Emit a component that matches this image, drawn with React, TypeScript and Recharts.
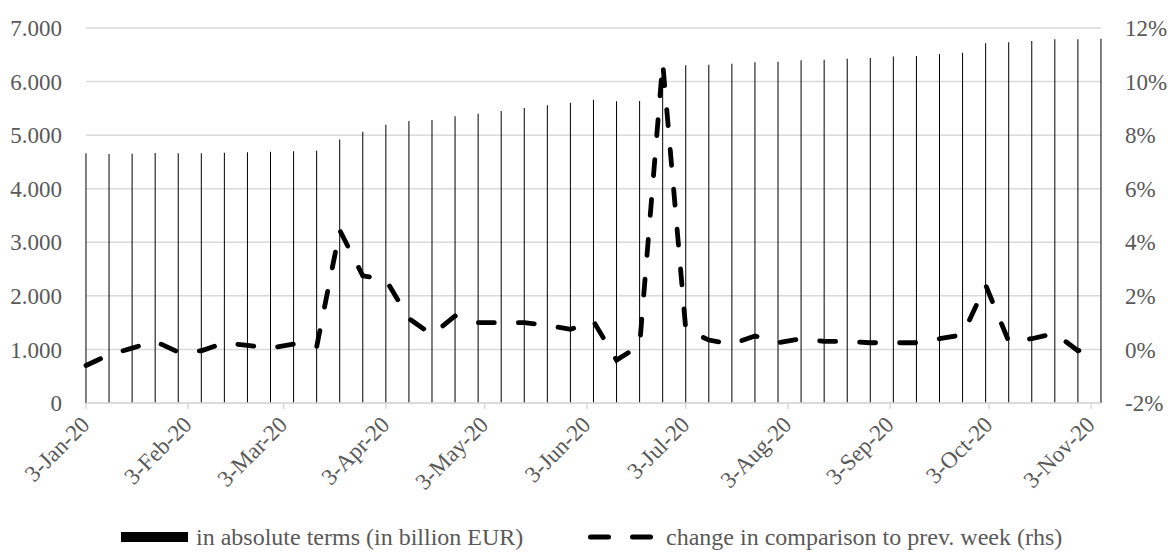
import React from 'react';
import { ComposedChart, Bar, Line, XAxis, YAxis, CartesianGrid } from 'recharts';

// weekly observations (Fridays)
const weekDates = [
  '2020-01-03', '2020-01-10', '2020-01-17', '2020-01-24', '2020-01-31',
  '2020-02-07', '2020-02-14', '2020-02-21', '2020-02-28', '2020-03-06',
  '2020-03-13', '2020-03-20', '2020-03-27', '2020-04-03', '2020-04-10',
  '2020-04-17', '2020-04-24', '2020-05-01', '2020-05-08', '2020-05-15',
  '2020-05-22', '2020-05-29', '2020-06-05', '2020-06-12', '2020-06-19',
  '2020-06-26', '2020-07-03', '2020-07-10', '2020-07-17', '2020-07-24',
  '2020-07-31', '2020-08-07', '2020-08-14', '2020-08-21', '2020-08-28',
  '2020-09-04', '2020-09-11', '2020-09-18', '2020-09-25', '2020-10-02',
  '2020-10-09', '2020-10-16', '2020-10-23', '2020-10-30', '2020-11-06',
];

// in billion EUR
const absoluteValues = [
  4660, 4650, 4655, 4665, 4660, 4660, 4670, 4680, 4690, 4700,
  4710, 4920, 5065, 5195, 5264, 5283, 5352, 5400, 5451, 5507,
  5557, 5606, 5662, 5631, 5637, 6240, 6304, 6316, 6334, 6360,
  6372, 6397, 6409, 6428, 6440, 6468, 6477, 6515, 6540, 6714,
  6732, 6757, 6788, 6788, 6800,
];

// % change vs previous week
const weeklyChange = [
  -0.6, -0.2, 0.05, 0.3, -0.1, -0.05, 0.25, 0.15, 0.05, 0.2,
  0.1, 4.45, 2.75, 2.6, 1.15, 0.55, 1.25, 1.0, 1.0, 1.0,
  0.9, 0.75, 1.05, -0.4, 0.15, 10.7, 0.75, 0.35, 0.2, 0.5,
  0.25, 0.4, 0.3, 0.3, 0.25, 0.25, 0.25, 0.4, 0.55, 2.4,
  0.3, 0.4, 0.6, -0.05, 0.25,
];

const tickDates = [
  '2020-01-03', '2020-02-03', '2020-03-03', '2020-04-03', '2020-05-03', '2020-06-03',
  '2020-07-03', '2020-08-03', '2020-09-03', '2020-10-03', '2020-11-03',
];
const tickLabels = [
  '3-Jan-20', '3-Feb-20', '3-Mar-20', '3-Apr-20', '3-May-20', '3-Jun-20',
  '3-Jul-20', '3-Aug-20', '3-Sep-20', '3-Oct-20', '3-Nov-20',
];

const leftTicks = [0, 1000, 2000, 3000, 4000, 5000, 6000, 7000];
const rightTicks = [-2, 0, 2, 4, 6, 8, 10, 12];

const START = Date.parse('2020-01-03');
const dayOf = (d: string) => Math.round((Date.parse(d) - START) / 86400000);

const data = weekDates.map((d, i) => ({
  day: dayOf(d),
  abs: absoluteValues[i],
  pct: weeklyChange[i],
}));
const tickDays = tickDates.map(dayOf);

const FONT = "'Liberation Serif', 'Times New Roman', serif";
const TEXT = '#595959';
const GRID = '#d9d9d9';

const DateTick = (props: any) => {
  const { x, y, payload } = props;
  const idx = tickDays.indexOf(payload.value);
  return (
    <g transform={`translate(${x + 5},${y + 15})`}>
      <text x={0} y={0} textAnchor="end" transform="rotate(-45)"
        fill={TEXT} fontSize={23} fontFamily={FONT}>
        {tickLabels[idx]}
      </text>
    </g>
  );
};

const fmtThousands = (v: number) => v === 0 ? '0' : v.toLocaleString('de-DE');

export default function App() {
  const tickStyle = { fill: TEXT, fontSize: 23, fontFamily: FONT };
  return (
    <div style={{ position: 'absolute', left: 0, top: 0, width: 1168, height: 555, background: '#fff' }}>
      <ComposedChart width={1168} height={555} data={data}
        margin={{ top: 28, right: 0, bottom: 0, left: 0 }}>
        <CartesianGrid yAxisId="left" vertical={false} stroke={GRID} strokeWidth={1.5} />
        <XAxis dataKey="day" type="number" domain={[0, 308]} ticks={tickDays}
          interval={0} height={152} tick={<DateTick />}
          axisLine={{ stroke: GRID, strokeWidth: 1.5 }}
          tickLine={{ stroke: GRID, strokeWidth: 1.5 }} tickSize={6} />
        <YAxis yAxisId="left" domain={[0, 7000]} ticks={leftTicks} width={86}
          axisLine={false} tickLine={false} tickSize={0} tickMargin={24}
          tick={tickStyle} tickFormatter={fmtThousands} />
        <YAxis yAxisId="right" orientation="right" domain={[-2, 12]} ticks={rightTicks}
          width={67} axisLine={false} tickLine={false} tickSize={0} tickMargin={24}
          tick={{ ...tickStyle, textAnchor: 'start' }} tickFormatter={(v: number) => `${v}%`} />
        <Bar yAxisId="left" dataKey="abs" fill="#000" barSize={1} isAnimationActive={false} />
        <Line yAxisId="right" dataKey="pct" type="linear" stroke="#000" strokeWidth={4.8}
          strokeDasharray="16 24" strokeLinecap="round" dot={false} isAnimationActive={false} />
      </ComposedChart>
      <svg width={1168} height={40} style={{ position: 'absolute', left: 0, top: 515 }}>
        <rect x={121} y={17} width={67} height={10} fill="#000" />
        <text x={196} y={30} fill={TEXT} fontSize={24} fontFamily={FONT}>
          in absolute terms (in billion EUR)
        </text>
        <line x1={590.5} y1={22} x2={608.5} y2={22} stroke="#000" strokeWidth={5} strokeLinecap="round" />
        <line x1={632.5} y1={22} x2={650.5} y2={22} stroke="#000" strokeWidth={5} strokeLinecap="round" />
        <text x={666} y={30} fill={TEXT} fontSize={24} fontFamily={FONT}>
          change in comparison to prev. week (rhs)
        </text>
      </svg>
    </div>
  );
}
